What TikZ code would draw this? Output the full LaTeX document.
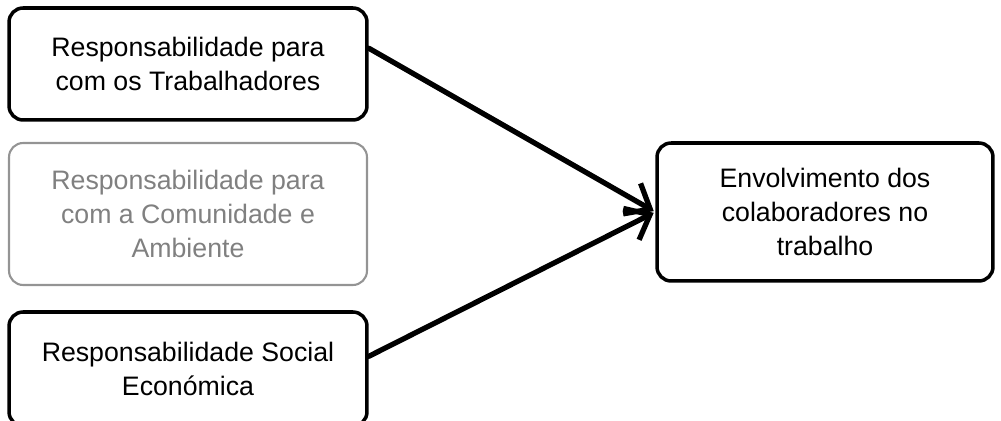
\documentclass[tikz,border=0pt]{standalone}
\usepackage{fontspec}
\setmainfont{Liberation Sans}
\usetikzlibrary{arrows.meta, positioning}

\tikzset{
  factor/.style = {rectangle, draw, line width=2pt, rounded corners=8pt, align=center,
    font=\fontsize{15.2}{19.6}\selectfont},
  faded/.style = {draw=black!42, text=black!50, line width=1.2pt},
  effect/.style = {-{Straight Barb[length=12pt, width=20pt]}, line width=3pt,
    line cap=round, line join=round, shorten >=1pt}
}

\begin{document}
\begin{tikzpicture}[x=0.02cm, y=-0.02cm]
    \useasboundingbox (0,0) rectangle (1001,421);
    \node(trab) at (188,64) [factor, minimum width=7.16cm, minimum height=2.24cm]
      {Responsabilidade para\\com os Trabalhadores};
    \node(comun) at (188,214) [factor, faded, minimum width=7.16cm, minimum height=2.84cm]
      {Responsabilidade para\\com a Comunidade e\\Ambiente};
    \node(econ) at (188,369) [factor, minimum width=7.16cm, minimum height=2.28cm]
      {Responsabilidade Social\\Económica};
    \node(envol) at (825,212) [factor, minimum width=6.72cm, minimum height=2.76cm]
      {Envolvimento dos\\colaboradores no\\trabalho};
    % setas
    \draw[effect] (trab.5) -- (envol.west);
    \draw[effect] (econ.4) -- (envol.west);
  \end{tikzpicture}
\end{document}
